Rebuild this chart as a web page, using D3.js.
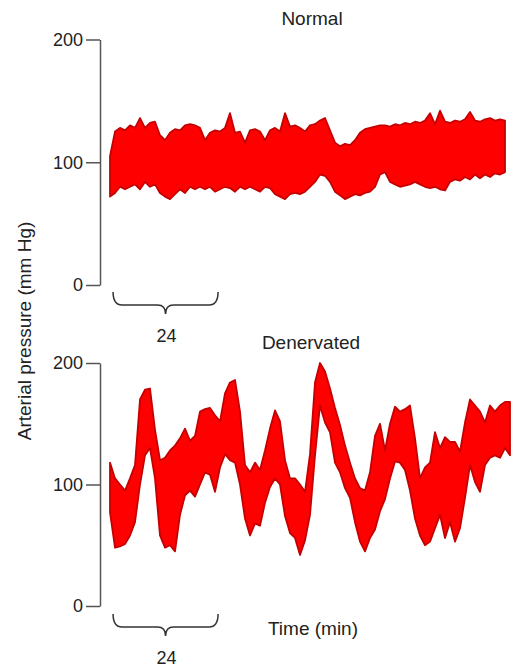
<!DOCTYPE html>
<html>
<head>
<meta charset="utf-8">
<script src="https://cdn.jsdelivr.net/npm/d3@7"></script>
<style>
  body { margin: 0; background: #fff; }
  text { font-family: "Liberation Sans", Arial, Helvetica, sans-serif; fill: #222; }
</style>
</head>
<body>
<div id="chart"></div>
<script>
// samples every 8/7 min (21 samples per 24-min brace)
const sampleStep = 8 / 7;

const normalHigh = [105,125,128,126,130,128,136,128,132,133,122,118,124,127,126,130,131,130,128,118,
  124,126,125,128,140,124,125,116,126,127,125,118,126,128,125,140,129,130,128,125,
  130,131,134,136,126,116,113,115,114,118,124,127,128,129,130,130,129,131,130,132,
  131,133,132,134,140,131,142,133,132,134,133,135,141,134,133,135,136,134,135,134];
const normalLow = [72,75,80,78,80,82,78,84,80,82,75,72,70,74,78,75,80,78,80,78,
  80,76,78,80,79,76,80,78,80,78,76,80,79,74,72,70,74,75,74,76,
  80,84,90,89,84,76,73,70,72,74,73,75,76,80,90,92,84,82,80,81,
  82,84,82,80,79,80,78,77,84,86,85,88,86,90,87,90,88,91,90,92];

const denervHigh = [118,105,100,95,105,116,170,178,179,145,
  120,122,128,132,138,146,136,140,160,162,
  163,157,152,175,184,186,160,116,110,118,
  112,128,146,161,152,120,105,105,100,94,
  125,184,200,193,179,163,149,132,118,105,
  97,95,110,140,150,128,150,164,160,162,
  165,138,105,114,118,143,130,139,135,135,
  127,151,170,165,160,151,165,160,165,168,
  168];
const denervLow = [77,48,49,51,58,69,100,124,130,105,
  58,48,50,45,75,91,95,90,100,110,
  108,94,114,125,120,118,100,72,58,68,
  66,85,98,105,100,74,60,56,42,54,
  75,124,165,151,143,118,110,97,89,69,
  53,45,56,63,78,88,105,119,118,112,
  95,72,58,50,53,64,75,56,69,53,
  64,89,116,102,94,116,122,124,122,130,
  124];

const yTicks = [0, 100, 200];
const braceMinutes = [0.7, 24.7];
const braceLabel = "24";

const width = 512, height = 668;

const svg = d3.select("#chart").append("svg")
  .attr("width", width)
  .attr("height", height);

const x = d3.scaleLinear().domain([0, 92]).range([110, 512.5]);

const panels = [
  { title: "Normal", hi: normalHigh, lo: normalLow, top: 39.5, bottom: 285, titleX: 312, titleY: 25, brace: 292 },
  { title: "Denervated", hi: denervHigh, lo: denervLow, top: 363, bottom: 606, titleX: 311, titleY: 349, brace: 614 }
];

panels.forEach(p => {
  const y = d3.scaleLinear().domain([0, 200]).range([p.bottom, p.top]);

  const pts = p.hi.map((h, i) => ({ t: i * sampleStep, hi: h, lo: p.lo[i] }));

  const area = d3.area()
    .x(d => x(d.t))
    .y0(d => y(d.lo))
    .y1(d => y(d.hi));

  svg.append("path")
    .datum(pts)
    .attr("d", area)
    .attr("fill", "#ff0000")
    .attr("stroke", "#c40000")
    .attr("stroke-width", 1.8)
    .attr("stroke-linejoin", "round");

  const axis = svg.append("g")
    .attr("transform", "translate(100,0)")
    .call(d3.axisLeft(y).tickValues(yTicks).tickSize(14).tickSizeOuter(0).tickPadding(3));
  axis.select(".domain").attr("stroke", "#555").attr("stroke-width", 1.5);
  axis.selectAll(".tick line").attr("stroke", "#555").attr("stroke-width", 1.5);
  axis.selectAll(".tick text")
    .attr("font-size", 18)
    .attr("font-family", "Liberation Sans, Arial, sans-serif")
    .attr("fill", "#222");

  svg.append("text")
    .attr("x", p.titleX)
    .attr("y", p.titleY)
    .attr("text-anchor", "middle")
    .attr("font-size", 19)
    .text(p.title);

  // curly brace marking a 24-min span
  const x0 = x(braceMinutes[0]), x1 = x(braceMinutes[1]), xc = (x0 + x1) / 2;
  const yT = p.brace, yM = p.brace + 13, yP = p.brace + 22;
  const bp = d3.path();
  bp.moveTo(x0, yT);
  bp.quadraticCurveTo(x0, yM, x0 + 9, yM);
  bp.lineTo(xc - 8, yM);
  bp.quadraticCurveTo(xc, yM, xc, yP);
  bp.quadraticCurveTo(xc, yM, xc + 8, yM);
  bp.lineTo(x1 - 9, yM);
  bp.quadraticCurveTo(x1, yM, x1, yT);
  svg.append("path")
    .attr("d", bp.toString())
    .attr("fill", "none")
    .attr("stroke", "#333")
    .attr("stroke-width", 1.5);

  svg.append("text")
    .attr("x", xc + 1)
    .attr("y", p.brace + 50)
    .attr("text-anchor", "middle")
    .attr("font-size", 18)
    .text(braceLabel);
});

svg.append("text")
  .attr("transform", "translate(31,331) rotate(-90)")
  .attr("text-anchor", "middle")
  .attr("font-size", 19)
  .text("Arterial pressure (mm Hg)");

svg.append("text")
  .attr("x", 313)
  .attr("y", 635)
  .attr("text-anchor", "middle")
  .attr("font-size", 19)
  .text("Time (min)");
</script>
</body>
</html>
